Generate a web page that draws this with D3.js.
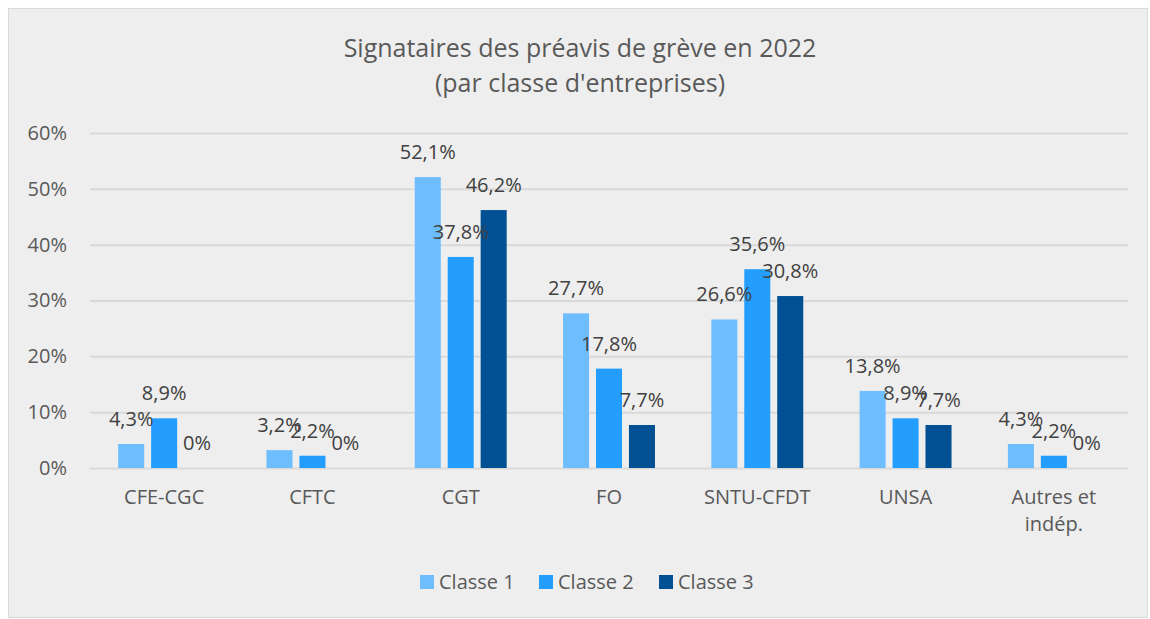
<!DOCTYPE html>
<html>
<head>
<meta charset="utf-8">
<script src="https://cdn.jsdelivr.net/npm/d3@7"></script>
<style>
  body { margin: 0; background: #fff; }
  text { font-family: "Open Sans", "Noto Sans", sans-serif; }
</style>
</head>
<body>
<div class="main"></div>
<script>
// Donnees du graphique
var categories = ['CFE-CGC', 'CFTC', 'CGT', 'FO', 'SNTU-CFDT', 'UNSA', 'Autres et indép.'];
var series     = ['Classe 1', 'Classe 2', 'Classe 3'];
var classe1    = [4.3, 3.2, 52.1, 27.7, 26.6, 13.8, 4.3];
var classe2    = [8.9, 2.2, 37.8, 17.8, 35.6, 8.9, 2.2];
var classe3    = [0, 0, 46.2, 7.7, 30.8, 7.7, 0];
var yTicks     = [0, 10, 20, 30, 40, 50, 60];
var titleLines = ['Signataires des préavis de grève en 2022', "(par classe d'entreprises)"];

var values = [classe1, classe2, classe3];
var colors = ['#6ebeff', '#239eff', '#005093'];

var W = 1150, H = 619;
var plotL = 90, plotR = 1128, plotT = 133, plotB = 468;

var canvas = d3.select('.main').append('svg')
    .attr('width', W).attr('height', H);

// fond + bordure
canvas.append('rect')
    .attr('x', 8.5).attr('y', 8.5)
    .attr('width', 1139).attr('height', 609)
    .attr('fill', '#eeeeee')
    .attr('stroke', '#d9d9d9');

// titre
canvas.append('text')
    .attr('x', 580).attr('y', 57)
    .attr('text-anchor', 'middle')
    .attr('fill', '#595959')
    .attr('font-size', 25)
    .selectAll('tspan').data(titleLines).enter().append('tspan')
        .attr('x', 580)
        .attr('dy', (d, i) => i == 0 ? 0 : 35)
        .text(d => d);

// echelles
var x0 = d3.scaleBand().domain(categories).range([plotL, plotR]);
var inner = x0.bandwidth() * 0.19;
var x1 = d3.scaleBand().domain(series)
    .range([inner, x0.bandwidth() - inner])
    .paddingInner(0.21);
var y = d3.scaleLinear().domain([0, 60]).range([plotB, plotT]);

// grille + axe y
var yaxis = canvas.append('g')
    .attr('class', 'yaxis')
    .attr('transform', 'translate(' + plotL + ',0)')
    .call(d3.axisLeft(y)
        .tickValues(yTicks)
        .tickSize(-(plotR - plotL))
        .tickPadding(23)
        .tickFormat(d => d + '%'));
yaxis.select('.domain').remove();
yaxis.selectAll('line').attr('stroke', '#d9d9d9').attr('stroke-width', 2);
yaxis.selectAll('text')
    .attr('fill', '#595959')
    .attr('font-size', 20)
    .attr('font-family', '"Open Sans", "Noto Sans", sans-serif');

// axe x (etiquettes seulement)
var xaxis = canvas.append('g')
    .attr('transform', 'translate(0,' + plotB + ')')
    .call(d3.axisBottom(x0).tickSize(0).tickPadding(22));
xaxis.select('.domain').remove();
xaxis.selectAll('text')
    .attr('fill', '#595959')
    .attr('font-size', 20)
    .attr('font-family', '"Open Sans", "Noto Sans", sans-serif')
    .each(function(d) {
        if (d == 'Autres et indép.') {
            var t = d3.select(this).text('');
            t.append('tspan').attr('x', 0).attr('dy', '0.71em').text('Autres et');
            t.append('tspan').attr('x', 0).attr('dy', 27).text('indép.');
            t.attr('dy', null);
        }
    });

// barres
var groups = canvas.append('g').selectAll('g')
    .data(categories).enter().append('g')
        .attr('transform', d => 'translate(' + x0(d) + ',0)');

series.forEach(function(s, si) {
    groups.append('rect')
        .attr('x', x1(s))
        .attr('y', (d, i) => y(values[si][i]))
        .attr('width', x1.bandwidth())
        .attr('height', (d, i) => y(0) - y(values[si][i]))
        .attr('fill', colors[si]);
});

// etiquettes des valeurs
series.forEach(function(s, si) {
    groups.append('text')
        .attr('x', x1(s) + x1.bandwidth() / 2)
        .attr('y', (d, i) => y(values[si][i]) - 18)
        .attr('text-anchor', 'middle')
        .attr('fill', '#404040')
        .attr('font-size', 20)
        .text((d, i) => String(values[si][i]).replace('.', ',') + '%');
});

// legende
var legendX = [420, 539, 659];
var legend = canvas.append('g').selectAll('g')
    .data(series).enter().append('g')
        .attr('transform', (d, i) => 'translate(' + legendX[i] + ',575)');
legend.append('rect')
    .attr('width', 14).attr('height', 14)
    .attr('fill', (d, i) => colors[i]);
legend.append('text')
    .attr('x', 19).attr('y', 14)
    .attr('fill', '#595959')
    .attr('font-size', 20)
    .text(d => d);
</script>
</body>
</html>
